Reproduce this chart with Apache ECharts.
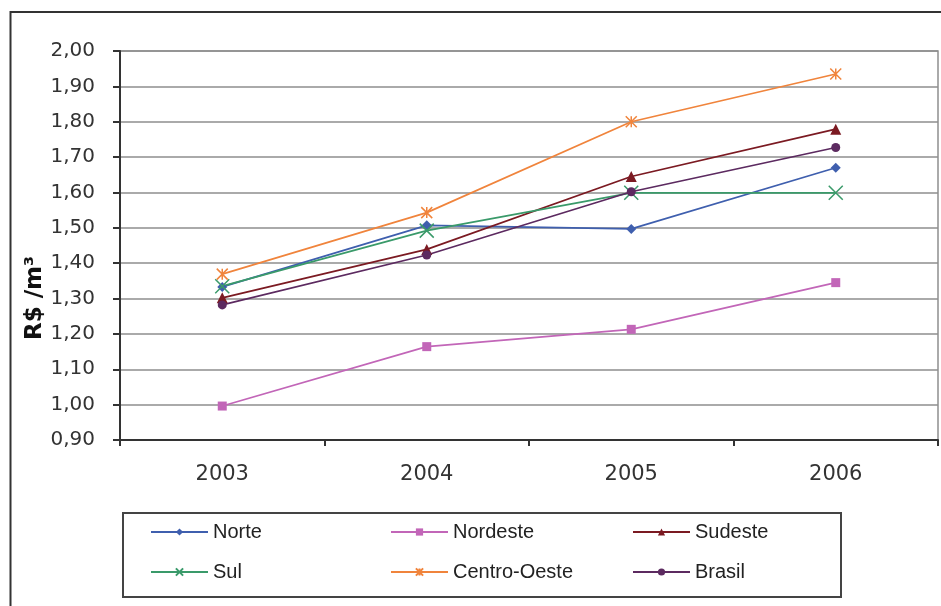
<!DOCTYPE html>
<html>
<head>
<meta charset="utf-8">
<script src="https://cdn.jsdelivr.net/npm/echarts@6/dist/echarts.min.js"></script>
<style>html,body{margin:0;padding:0;background:#fff;}#c{width:941px;height:606px;}</style>
</head>
<body>
<div id="c"></div>
<script>
const categories = ['2003', '2004', '2005', '2006'];
const norte = [1.333, 1.507, 1.497, 1.670];
const nordeste = [0.996, 1.164, 1.213, 1.345];
const sudeste = [1.302, 1.439, 1.645, 1.779];
const sul = [1.335, 1.492, 1.599, 1.599];
const centroOeste = [1.369, 1.543, 1.800, 1.935];
const brasil = [1.282, 1.423, 1.602, 1.727];
const seriesNames = ['Norte', 'Nordeste', 'Sudeste', 'Sul', 'Centro-Oeste', 'Brasil'];
const yTitle = 'R$ /m³';

const colors = {
  'Norte': '#3f5fae',
  'Nordeste': '#c266b8',
  'Sudeste': '#7b1a22',
  'Sul': '#3a9a6a',
  'Centro-Oeste': '#f0843c',
  'Brasil': '#5c2a60'
};
const xPath = 'path://M0,0L10,10M10,0L0,10';
const starPath = 'path://M0,0L10,10M10,0L0,10M5,0L5,10';

function mk(name, data, symbol, size, stroke) {
  const c = colors[name];
  return {
    name: name, type: 'line', data: data,
    symbol: symbol, symbolSize: size, showSymbol: true,
    lineStyle: { color: c, width: 1.7 },
    itemStyle: stroke ? { color: c, borderColor: c, borderWidth: 1.5 } : { color: c },
    emphasis: { disabled: true }
  };
}

const chart = echarts.init(document.getElementById('c'), null, { renderer: 'canvas' });
const legendText = { fontFamily: 'Liberation Sans', fontSize: 20, color: '#222' };
function lg(names, left) {
  return {
    data: names, orient: 'vertical', left: left, top: 522, padding: 0,
    itemWidth: 57, itemHeight: 9, itemGap: 20, textStyle: legendText,
    selectedMode: false
  };
}
chart.setOption({
  animation: false,
  backgroundColor: '#fff',
  grid: { left: 120, right: 3, top: 51, bottom: 166, show: true, borderColor: '#8e8e8e', borderWidth: 1.5 },
  legend: [lg(['Norte', 'Sul'], 150), lg(['Nordeste', 'Centro-Oeste'], 390), lg(['Sudeste', 'Brasil'], 632)],
  xAxis: {
    type: 'category', data: categories, boundaryGap: true,
    axisLine: { lineStyle: { color: '#333', width: 2 } },
    axisTick: { show: true, length: 6, lineStyle: { color: '#333', width: 2 } },
    axisLabel: { fontFamily: 'DejaVu Sans', fontSize: 21, color: '#333', margin: 24 },
    splitLine: { show: false }
  },
  yAxis: {
    type: 'value', min: 0.9, max: 2.0, interval: 0.1,
    axisLine: { show: true, lineStyle: { color: '#333', width: 2 } },
    axisTick: { show: true, length: 7, lineStyle: { color: '#333', width: 2 } },
    axisLabel: { fontFamily: 'DejaVu Sans', fontSize: 20, color: '#333', margin: 25,
      formatter: v => v.toFixed(2).replace('.', ',') },
    splitLine: { lineStyle: { color: '#8e8e8e', width: 1.5 } }
  },
  series: [
    mk('Norte', norte, 'diamond', 10, false),
    mk('Nordeste', nordeste, 'rect', 9, false),
    mk('Sudeste', sudeste, 'triangle', 11, false),
    mk('Sul', sul, xPath, 14, true),
    mk('Centro-Oeste', centroOeste, starPath, 11, true),
    mk('Brasil', brasil, 'circle', 9, false)
  ],
  graphic: [
    { type: 'rect', shape: { x: 10.5, y: 12, width: 1000, height: 1000 }, style: { fill: 'none', stroke: '#333', lineWidth: 2 }, silent: true, z: -1 },
    { type: 'rect', shape: { x: 123, y: 513, width: 718, height: 84 }, style: { fill: 'none', stroke: '#444', lineWidth: 2 }, silent: true },
    { type: 'text', x: 35, y: 298, rotation: Math.PI / 2,
      style: { text: yTitle, fontFamily: 'DejaVu Sans', fontWeight: 'bold', fontSize: 23, fill: '#111', align: 'center', verticalAlign: 'middle' }, silent: true }
  ]
});
</script>
</body>
</html>
